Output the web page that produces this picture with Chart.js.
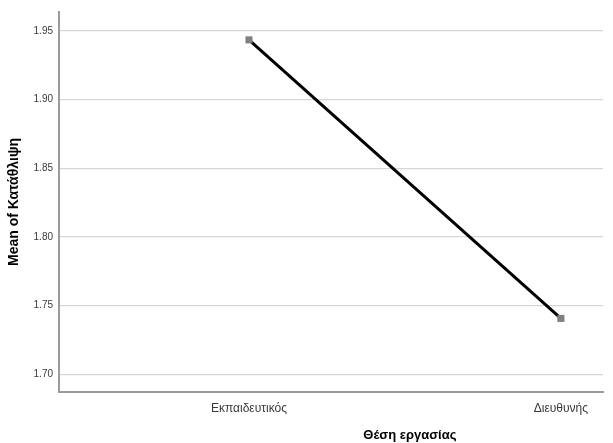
<!DOCTYPE html>
<html>
<head>
<meta charset="utf-8">
<script src="https://cdn.jsdelivr.net/npm/chart.js@4.4.1/dist/chart.umd.min.js"></script>
<style>
  html, body { margin: 0; padding: 0; background: #fff; }
  #wrap { width: 613px; height: 443px; }
</style>
</head>
<body>
<div id="wrap"><canvas id="cMean"></canvas></div>
<script>
// Μέσος όρος κατάθλιψης ανά θέση εργασίας
const categories = ['Εκπαιδευτικός', 'Διευθυνής'];
const means = [1.9435, 1.7406];
const yTicks = [1.70, 1.75, 1.80, 1.85, 1.90, 1.95];

const FONT = 'Arial, "Liberation Sans", sans-serif';

// τίτλος άξονα Χ, κεντραρισμένος ανάμεσα στις δύο κατηγορίες
const xTitlePlugin = {
  id: 'xTitle',
  afterDraw(chart) {
    const { ctx, scales: { x } } = chart;
    const cx = (x.getPixelForValue(1) + x.getPixelForValue(categories.length)) / 2;
    ctx.save();
    ctx.font = 'bold 13px ' + FONT;
    ctx.fillStyle = '#000';
    ctx.textAlign = 'center';
    ctx.textBaseline = 'middle';
    ctx.fillText('Θέση εργασίας', cx + 5, 435);
    ctx.restore();
  }
};

new Chart(document.getElementById('cMean').getContext('2d'), {
  type: 'line',
  data: {
    datasets: [{
      data: means.map((m, i) => ({ x: i + 1, y: m })),
      borderColor: '#000',
      borderWidth: 3,
      tension: 0,
      pointStyle: 'rect',
      pointRadius: 5,
      pointBackgroundColor: '#808080',
      pointBorderColor: '#808080',
      pointBorderWidth: 0
    }]
  },
  options: {
    responsive: true, maintainAspectRatio: false,
    animation: false,
    layout: { padding: { top: 10, right: 10, left: 0, bottom: 0 } },
    plugins: { legend: { display: false }, tooltip: { enabled: false } },
    scales: {
      x: {
        type: 'linear',
        min: 0.391, max: 2.135,
        afterBuildTicks: s => { s.ticks = categories.map((_, i) => ({ value: i + 1 })); },
        afterFit: s => { s.height = 51; },
        grid: { display: false, drawTicks: false },
        border: { color: '#9a9a9a', width: 2 },
        ticks: {
          color: '#3a3a3a', padding: 9,
          font: { family: FONT, size: 12 },
          callback: v => categories[v - 1]
        }
      },
      y: {
        min: 1.687, max: 1.9638,
        afterBuildTicks: s => { s.ticks = yTicks.map(v => ({ value: v })); },
        afterFit: s => { s.width = 59; },
        grid: { color: '#d6d6d6', lineWidth: 1.3, drawTicks: false },
        border: { color: '#9a9a9a', width: 2 },
        ticks: {
          color: '#3a3a3a', padding: 6,
          font: { family: FONT, size: 10 },
          callback: v => v.toFixed(2)
        },
        title: {
          display: true,
          text: 'Mean of Κατάθλιψη',
          color: '#000',
          font: { family: FONT, size: 14, weight: 'bold' },
          padding: { top: 6, bottom: 0 }
        }
      }
    }
  },
  plugins: [xTitlePlugin]
});
</script>
</body>
</html>
